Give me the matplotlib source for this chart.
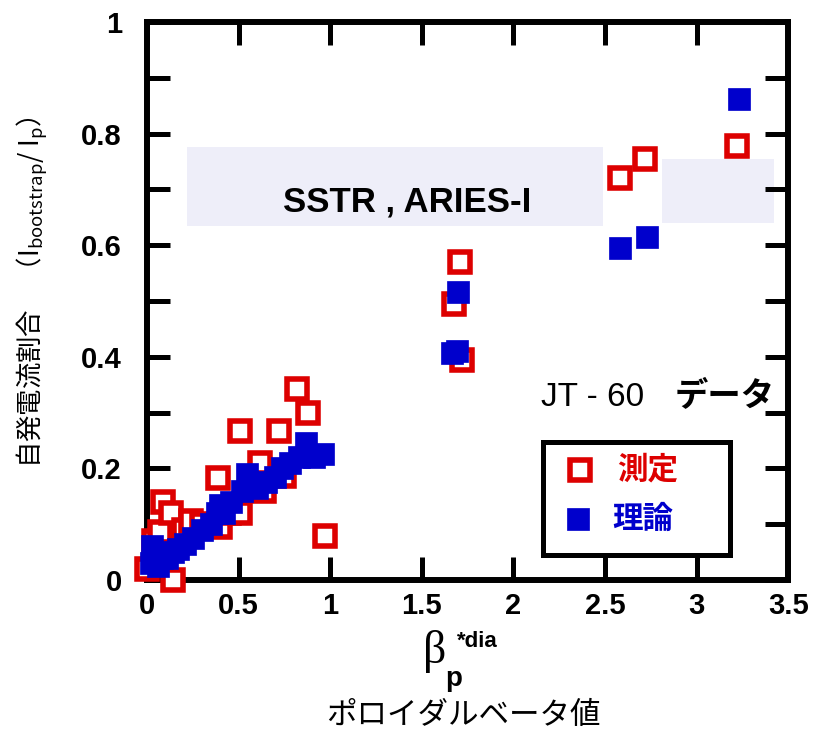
import matplotlib
matplotlib.use("Agg")
import matplotlib.pyplot as plt
from matplotlib.patches import Rectangle
from matplotlib.ticker import MultipleLocator

plt.rcParams['font.family'] = ['Liberation Sans', 'Noto Sans CJK JP', 'DejaVu Sans']
plt.rcParams['mathtext.fontset'] = 'custom'
plt.rcParams['mathtext.rm'] = 'Noto Sans CJK JP'

# measured bootstrap fraction (open red squares)
meas_x = [0.00, 0.14, 0.04, 0.07, 0.09, 0.13, 0.20, 0.24, 0.30, 0.39, 0.40, 0.45,
          0.51, 0.51, 0.62, 0.64, 0.72, 0.75, 0.82, 0.88, 0.97,
          1.675, 1.71, 1.72, 2.58, 2.72, 3.22]
meas_y = [0.02, 0.00, 0.07, 0.085, 0.14, 0.12, 0.09, 0.105, 0.10, 0.183, 0.095, 0.12,
          0.12, 0.266, 0.21, 0.16, 0.267, 0.186, 0.342, 0.30, 0.078,
          0.494, 0.57, 0.394, 0.72, 0.754, 0.778]

# theoretical bootstrap fraction (filled blue squares)
theo_x = [0.02, 0.03, 0.06, 0.08, 0.11, 0.14, 0.17, 0.21, 0.25, 0.30, 0.35, 0.38,
          0.40, 0.42, 0.46, 0.52, 0.545, 0.60, 0.65, 0.70, 0.74, 0.78, 0.83,
          0.87, 0.91, 0.96,
          1.665, 1.69, 1.70, 2.58, 2.73, 3.23]
theo_y = [0.03, 0.06, 0.025, 0.04, 0.04, 0.05, 0.055, 0.065, 0.075, 0.09, 0.10, 0.12,
          0.135, 0.12, 0.14, 0.16, 0.19, 0.165, 0.175, 0.185, 0.20, 0.21, 0.22,
          0.245, 0.22, 0.225,
          0.406, 0.41, 0.516, 0.595, 0.615, 0.862]

x_ticks = [0, 0.5, 1, 1.5, 2, 2.5, 3, 3.5]
x_tick_labels = ['0', '0.5', '1', '1.5', '2', '2.5', '3', '3.5']
y_ticks = [0, 0.2, 0.4, 0.6, 0.8, 1.0]
y_tick_labels = ['0', '0.2', '0.4', '0.6', '0.8', '1']

red = '#dd0000'
blue = '#0000cc'
band = '#eeeef9'

fig = plt.figure(figsize=(8.16, 7.34), dpi=100)
ax = fig.add_axes([0.180, 0.210, 0.786, 0.760])

# reactor design ranges
ax.add_patch(Rectangle((0.22, 0.634), 2.27, 0.142, facecolor=band, edgecolor='none', zorder=0))
ax.add_patch(Rectangle((2.81, 0.640), 0.61, 0.114, facecolor=band, edgecolor='none', zorder=0))
ax.text(1.42, 0.661, 'SSTR , ARIES-I', fontsize=25, fontweight='bold', ha='center', va='baseline')

ax.plot(meas_x, meas_y, 's', ms=14.8, mfc='white', mec=red, mew=4, clip_on=False, zorder=3)
ax.plot(theo_x, theo_y, 's', ms=16.5, mfc=blue, mec=blue, mew=0.5, clip_on=False, zorder=4)

ax.text(2.15, 0.311, 'JT - 60', fontsize=24, va='baseline')
ax.text(2.88, 0.311, 'データ', fontsize=24, fontweight='bold', style='italic',
        family=['Noto Sans CJK JP'], va='baseline')

# legend box
ax.add_patch(Rectangle((0.618, 0.045), 0.291, 0.202, transform=ax.transAxes,
                       facecolor='white', edgecolor='black', lw=3.6, zorder=5))
ax.plot([0.675], [0.197], 's', transform=ax.transAxes, ms=14.8, mfc='white', mec=red, mew=4, zorder=6)
ax.plot([0.672], [0.109], 's', transform=ax.transAxes, ms=16.5, mfc=blue, mec=blue, mew=0.5, zorder=6)
ax.text(0.733, 0.197, '測定', transform=ax.transAxes, fontsize=22, fontweight='bold', color=red,
        family=['Noto Sans CJK JP'], va='center', zorder=6)
ax.text(0.725, 0.109, '理論', transform=ax.transAxes, fontsize=22, fontweight='bold', color=blue,
        family=['Noto Sans CJK JP'], va='center', zorder=6)

ax.set_xlim(0, 3.5)
ax.set_ylim(0, 1)
ax.set_xticks(x_ticks)
ax.set_xticklabels(x_tick_labels)
ax.set_yticks(y_ticks)
ax.set_yticklabels(y_tick_labels)
ax.yaxis.set_minor_locator(MultipleLocator(0.1))
for lab in ax.get_xticklabels() + ax.get_yticklabels():
    lab.set_fontweight('bold')
ax.tick_params(which='both', direction='in', length=16.5, width=3.6, top=True, right=True)
ax.tick_params(axis='x', labelsize=21, pad=9)
ax.tick_params(axis='y', labelsize=21, pad=18)
for s in ax.spines.values():
    s.set_linewidth(4.3)

# y label
fig.text(0.040, 0.602, '自発電流割合　（I$_{\\mathregular{bootstrap}}$/ I$_{\\mathregular{p}}$）',
         rotation=90, fontsize=19, family=['Noto Sans CJK JP'], ha='center', va='center')

# x label
fig.text(435 / 816, 1 - 663 / 734, 'β', fontsize=33, family=['Liberation Serif'], ha='center', va='baseline')
fig.text(445 / 816, 1 - 686 / 734, 'p', fontsize=20, fontweight='bold', ha='left', va='baseline')
fig.text(457 / 816, 1 - 647 / 734, '*dia', fontsize=16, fontweight='bold', ha='left', va='baseline')
fig.text(463 / 816, 1 - 716 / 734, 'ポロイダルベータ値', fontsize=22, family=['Noto Sans CJK JP'],
         ha='center', va='center')

fig.savefig('out.png', dpi=100)
